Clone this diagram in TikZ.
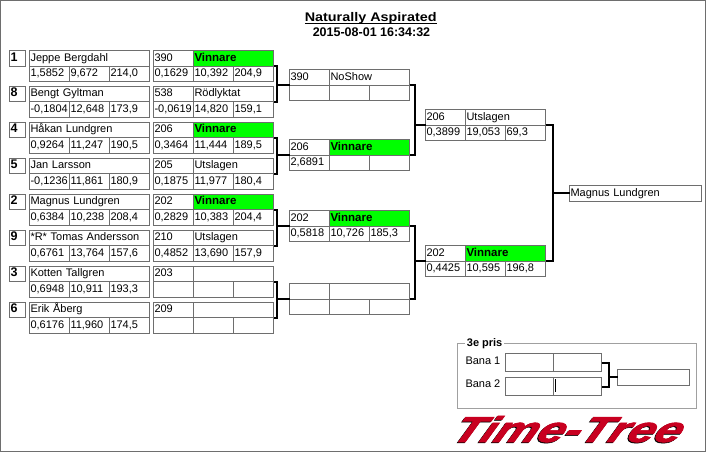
\documentclass[tikz,border=0pt]{standalone}
\usepackage{fontspec}
\setmainfont{Liberation Sans}
\newfontfamily\logofont[BoldItalicFeatures={FakeBold=1.6}]{Liberation Sans}
\usetikzlibrary{positioning}
\definecolor{CellGray}{HTML}{6E6E6E}
\definecolor{FrameGray}{HTML}{A0A0A0}
\definecolor{WinGreen}{HTML}{00FF00}
\definecolor{LogoRed}{HTML}{C80020}
\tikzset{
  cell/.style={draw=CellGray,line width=1pt,anchor=north west,inner xsep=1pt,inner ysep=0pt,
    outer sep=0pt,minimum height=15.5pt,text height=8pt,text depth=2.5pt,align=left,
    font=\fontsize{11}{11}\selectfont},
  small/.style={cell,text width=38pt},
  wide/.style={cell,text width=78pt},
  plain/.style={},
  winner/.style={fill=WinGreen,font=\fontsize{11.5}{11}\selectfont\bfseries},
  bracket/.style={draw=black,line width=2pt},
  label/.style={anchor=base west,inner sep=0pt,font=\fontsize{11}{11}\selectfont}
}
\begin{document}
\begin{tikzpicture}[x=1pt,y=-1pt]
    \useasboundingbox (0,0) rectangle (706,452);
    \draw[CellGray,line width=1pt] (0.5,0.5) rectangle (705.5,451.5);
    \node[anchor=base,inner sep=0pt,xscale=1.15,transform shape,font=\fontsize{12.5}{12.5}\selectfont\bfseries] (title) at (370.7,21.7) {\underline{\smash{Naturally Aspirated}}};
    \node[anchor=base,inner sep=0pt,font=\fontsize{12.5}{12.5}\selectfont\bfseries] (stamp) at (371.5,36.7) {2015-08-01 16:34:32};
    % drivers
    \foreach \id/\yy/\seed/\nm/\a/\b/\c in {
      d1/50.5/1/Jeppe Bergdahl/{1,5852}/{9,672}/{214,0},
      d2/86/8/Bengt Gyltman/{-0,1804}/{12,648}/{173,9},
      d3/122/4/Håkan Lundgren/{0,9264}/{11,247}/{190,5},
      d4/158/5/Jan Larsson/{-0,1236}/{11,861}/{180,9},
      d5/194/2/Magnus Lundgren/{0,6384}/{10,238}/{208,4},
      d6/230/9/*R* Tomas Andersson/{0,6761}/{13,764}/{157,6},
      d7/266/3/Kotten Tallgren/{0,6948}/{10,911}/{193,3},
      d8/302/6/Erik Åberg/{0,6176}/{11,960}/{174,5}} {
     \node[cell,text width=14pt,font=\fontsize{12.5}{11}\selectfont\bfseries] (\id-seed) at (9.5,\yy) {\seed};
     \node[cell,text width=118pt] (\id-name) at (29.5,\yy) {\nm};
     \node[small] (\id-a) at (\id-name.south west) {\a};
     \node[small] (\id-b) at (\id-a.north east) {\b};
     \node[small] (\id-c) at (\id-b.north east) {\c};
    }
    % heats
    \foreach \id/\xx/\yy/\num/\sty/\state/\a/\b/\c in {
      h1/153.5/50.5/390/winner/Vinnare/{0,1629}/{10,392}/{204,9},
      h2/153.5/86/538/plain/Rödlyktat/{-0,0619}/{14,820}/{159,1},
      h3/153.5/122/206/winner/Vinnare/{0,3464}/{11,444}/{189,5},
      h4/153.5/158/205/plain/Utslagen/{0,1875}/{11,977}/{180,4},
      h5/153.5/194/202/winner/Vinnare/{0,2829}/{10,383}/{204,4},
      h6/153.5/230/210/plain/Utslagen/{0,4852}/{13,690}/{157,9},
      h7/153.5/266/203/plain/{}/{}/{}/{},
      h8/153.5/302/209/plain/{}/{}/{}/{},
      q1/289.5/69.5/390/plain/NoShow/{}/{}/{},
      q2/289.5/139.5/206/winner/Vinnare/{2,6891}/{}/{},
      q3/289.5/210.5/202/winner/Vinnare/{0,5818}/{10,726}/{185,3},
      q4/289.5/283.5/{}/plain/{}/{}/{}/{},
      s1/425.5/109.5/206/plain/Utslagen/{0,3899}/{19,053}/{69,3},
      s2/425.5/245.5/202/winner/Vinnare/{0,4425}/{10,595}/{196,8}} {
     \node[small] (\id-num) at (\xx,\yy) {\num};
     \node[wide,\sty] (\id-state) at (\id-num.north east) {\state};
     \node[small] (\id-a) at (\id-num.south west) {\a};
     \node[small] (\id-b) at (\id-a.north east) {\b};
     \node[small] (\id-c) at (\id-b.north east) {\c};
    }
    \node[cell,text width=130pt] (final) at (569.5,185.5) {Magnus Lundgren};
    % brackets
    \foreach \up/\down/\next/\off in {h1/h2/q1/3,h3/h4/q2/3,h5/h6/q3/3,h7/h8/q4/3,q1/q2/s1/5.5,q3/q4/s2/5.5} {
     \coordinate (\up-join) at ([xshift=\off pt]\up-state.south east);
     \draw[bracket] (\up-state.south east) -- (\up-join) |- (\down-state.south east);
     \draw[bracket] (\up-join |- \next-num.south west) -- (\next-num.south west);
    }
    \coordinate (s1-join) at ([xshift=7pt]s1-state.south east);
    \draw[bracket] (s1-state.south east) -- (s1-join) |- (s2-state.south east);
    \draw[bracket] (s1-join |- final.west) -- (final.west);
    % third place
    \node[draw=FrameGray,line width=1pt,anchor=north west,minimum width=239pt,minimum height=65pt,outer sep=0pt] (frame) at (457.5,343.5) {};
    \node[anchor=base west,inner xsep=2pt,inner ysep=1pt,fill=white,font=\fontsize{11}{11}\selectfont\bfseries] (pris) at (464.7,346.7) {3e pris};
    \node[label] (bana1) at (465.3,364) {Bana 1};
    \node[label] (bana2) at (465.3,387) {Bana 2};
    \foreach \id/\yy in {t1/353.5,t2/377.5} {
     \node[small,text width=46pt,minimum height=18pt] (\id-a) at (505.5,\yy) {};
     \node[small,text width=46pt,minimum height=18pt] (\id-b) at (\id-a.north east) {};
    }
    \node[cell,text width=70pt] (bronze) at (617.5,369.5) {};
    \coordinate (t-join) at ([xshift=7pt]t1-b.east);
    \draw[bracket] (t1-b.east) -- (t-join) |- (t2-b.east);
    \draw[bracket] (t-join |- bronze.west) -- (bronze.west);
    \draw[black,line width=1pt] (555.5,379) -- (555.5,392);
    % logo
    \foreach \col/\dx/\dy/\nm in {black/-1/0.8/logoshade,LogoRed/0/0/logo} {
     \node[anchor=base,inner sep=0pt,xscale=1.34,xslant=0.35,transform shape,text=\col,font=\fontsize{36}{36}\logofont\bfseries\itshape] (\nm) at (564+\dx,442+\dy) {Time-Tree};
    }
\end{tikzpicture}
\end{document}
